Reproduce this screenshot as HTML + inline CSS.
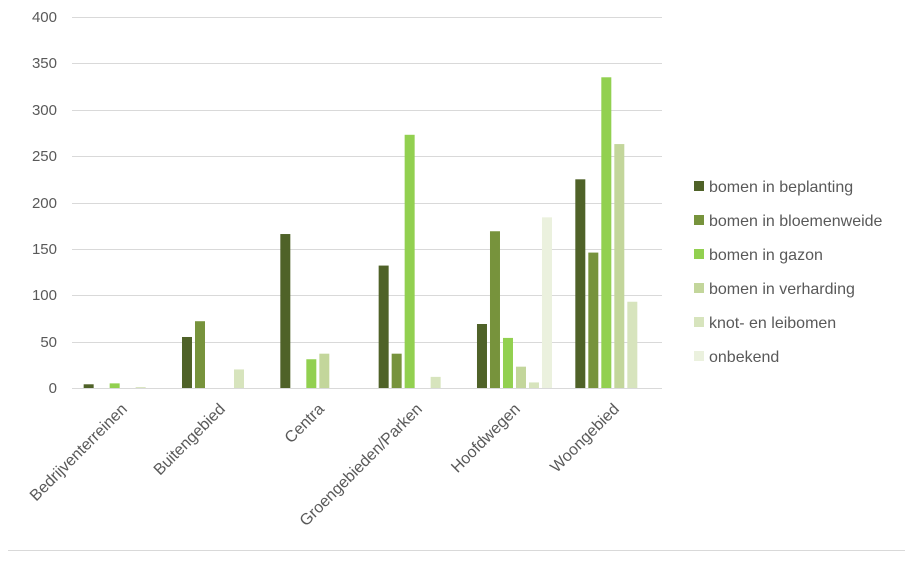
<!DOCTYPE html><html><head><style>body{margin:0;background:#fff}</style></head><body>
<svg width="918" height="556" xmlns="http://www.w3.org/2000/svg" font-family="Liberation Sans, sans-serif" fill="#595959">
<g stroke="#d9d9d9" stroke-width="1">
<line x1="72" x2="662" y1="17.5" y2="17.5"/><line x1="72" x2="662" y1="63.5" y2="63.5"/><line x1="72" x2="662" y1="110.5" y2="110.5"/><line x1="72" x2="662" y1="156.5" y2="156.5"/><line x1="72" x2="662" y1="203.5" y2="203.5"/><line x1="72" x2="662" y1="249.5" y2="249.5"/><line x1="72" x2="662" y1="295.5" y2="295.5"/><line x1="72" x2="662" y1="342.5" y2="342.5"/><line x1="72" x2="662" y1="388.5" y2="388.5"/>
<line x1="8" x2="905" y1="550.5" y2="550.5"/>
</g>
<g font-size="15" text-anchor="end">
<text x="57" y="22">400</text><text x="57" y="68">350</text><text x="57" y="115">300</text><text x="57" y="161">250</text><text x="57" y="208">200</text><text x="57" y="254">150</text><text x="57" y="300">100</text><text x="57" y="347">50</text><text x="57" y="393">0</text>
</g>
<g id="bars"></g>
<g font-size="16" text-anchor="end">
<text transform="translate(128,410) rotate(-45)">Bedrijventerreinen</text>
<text transform="translate(226,410) rotate(-45)">Buitengebied</text>
<text transform="translate(325,410) rotate(-45)">Centra</text>
<text transform="translate(423,410) rotate(-45)">Groengebieden/Parken</text>
<text transform="translate(521,410) rotate(-45)">Hoofdwegen</text>
<text transform="translate(620,410) rotate(-45)">Woongebied</text>
</g>
<g font-size="16">
<rect x="694" y="181" width="10" height="10" fill="#4f6228"/><text x="709" y="192">bomen in beplanting</text>
<rect x="694" y="215" width="10" height="10" fill="#77933c"/><text x="709" y="226">bomen in bloemenweide</text>
<rect x="694" y="249" width="10" height="10" fill="#92d050"/><text x="709" y="260">bomen in gazon</text>
<rect x="694" y="283" width="10" height="10" fill="#c3d69b"/><text x="709" y="294">bomen in verharding</text>
<rect x="694" y="317" width="10" height="10" fill="#d7e4bd"/><text x="709" y="328">knot- en leibomen</text>
<rect x="694" y="351" width="10" height="10" fill="#ebf1de"/><text x="709" y="362">onbekend</text>
</g>
</svg>
<script>
var d=[[4,0,5,0,1,0],[55,72,0,0,20,0],[166,0,31,37,0,0],[132,37,273,0,12,0],[69,169,54,23,6,184],[225,146,335,263,93,0]];
var c=["#4f6228","#77933c","#92d050","#c3d69b","#d7e4bd","#ebf1de"];
var g=document.getElementById("bars"),s="";
for(var i=0;i<6;i++){var cx=72+(i+0.5)*98.33;for(var j=0;j<6;j++){var v=d[i][j];if(!v)continue;var h=v*0.9275;var x=cx+(j-2.5)*13-5;s+='<rect x="'+x+'" y="'+(388-h)+'" width="10" height="'+h+'" fill="'+c[j]+'"/>';}}
g.innerHTML=s;
</script>
</body></html>
